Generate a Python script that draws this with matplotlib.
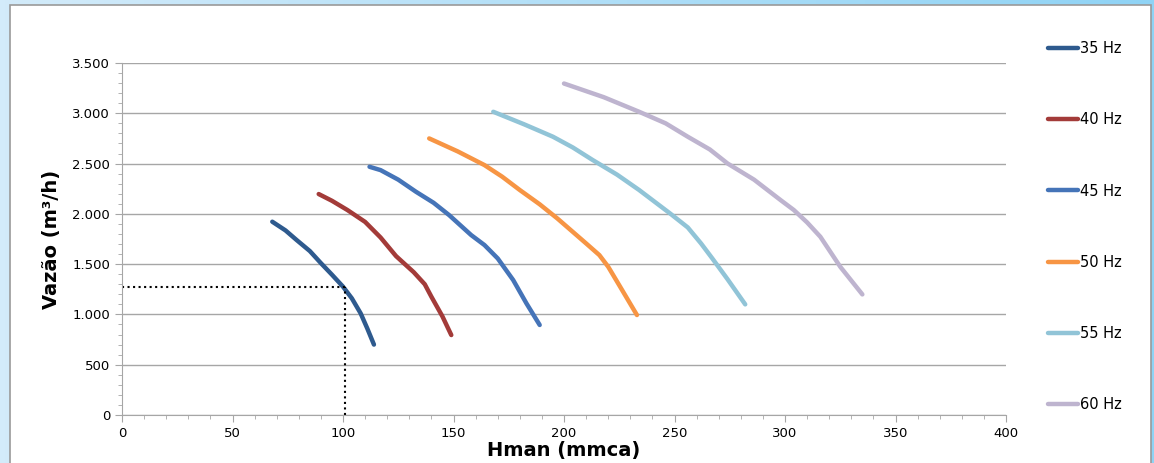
import matplotlib
matplotlib.use("Agg")
import matplotlib.pyplot as plt
import numpy as np
from matplotlib.patches import Rectangle
from matplotlib.ticker import MultipleLocator, FuncFormatter

# Curvas de vazão x altura manométrica para cada frequência
hman_35 = [68, 74, 79, 85, 90, 95, 100, 104, 108, 111, 114]
vazao_35 = [1922, 1835, 1740, 1630, 1510, 1395, 1276, 1160, 1010, 860, 700]
hman_40 = [89, 95, 102, 110, 117, 124, 132, 137, 140, 145, 149]
vazao_40 = [2197, 2130, 2038, 1920, 1765, 1580, 1420, 1300, 1176, 980, 795]
hman_45 = [112, 117, 125, 133, 141, 148, 158, 164, 170, 177, 183, 189]
vazao_45 = [2468, 2435, 2340, 2220, 2110, 1988, 1789, 1690, 1557, 1342, 1110, 895]
hman_50 = [139, 152, 164, 172, 180, 189, 197, 210, 216, 220, 225, 233]
vazao_50 = [2750, 2620, 2485, 2370, 2237, 2095, 1954, 1706, 1590, 1474, 1290, 994]
hman_55 = [168, 182, 195, 204, 213, 224, 234, 248, 256, 262, 267, 274, 282]
vazao_55 = [3015, 2890, 2767, 2660, 2535, 2390, 2237, 2004, 1865, 1706, 1560, 1350, 1100]
hman_60 = [200, 218, 234, 246, 256, 266, 274, 286, 298, 304, 310, 316, 325, 335]
vazao_60 = [3296, 3160, 3015, 2900, 2767, 2640, 2501, 2340, 2137, 2038, 1915, 1772, 1474, 1199]

curvas = [
    ("35 Hz", hman_35, vazao_35, "#2E5A8E"),
    ("40 Hz", hman_40, vazao_40, "#A33B39"),
    ("45 Hz", hman_45, vazao_45, "#4574B8"),
    ("50 Hz", hman_50, vazao_50, "#F79544"),
    ("55 Hz", hman_55, vazao_55, "#91C4D7"),
    ("60 Hz", hman_60, vazao_60, "#BEB4CF"),
]

# Ponto de operação marcado
ponto_h = 101
ponto_q = 1275

fig = plt.figure(figsize=(11.54, 4.63), dpi=100)

# fundo azul em degradê + painel branco
bg = fig.add_axes([0, 0, 1, 1], zorder=-10)
grad = np.linspace(0, 1, 256).reshape(1, -1)
cmap = matplotlib.colors.LinearSegmentedColormap.from_list("bg", ["#D3EBFA", "#8FD3F5"])
bg.imshow(grad, aspect="auto", cmap=cmap, extent=[0, 1, 0, 1])
bg.add_patch(Rectangle((10 / 1154, -0.01), 1141 / 1154, (463 - 5) / 463 + 0.01,
                       facecolor="white", edgecolor="#9A9A9A", linewidth=1.2))
bg.set_xlim(0, 1)
bg.set_ylim(0, 1)
bg.axis("off")

ax = fig.add_axes([122 / 1154, 48 / 463, 884 / 1154, 352 / 463])
ax.set_facecolor("none")

for nome, h, q, cor in curvas:
    ax.plot(h, q, color=cor, linewidth=3.2, solid_capstyle="round",
            solid_joinstyle="round", label=nome)

ax.plot([0, ponto_h], [ponto_q, ponto_q], color="black", linestyle=":", linewidth=1.5)
ax.plot([ponto_h, ponto_h], [0, ponto_q], color="black", linestyle=":", linewidth=1.5)

ax.set_xlim(0, 400)
ax.set_ylim(0, 3500)
ax.xaxis.set_major_locator(MultipleLocator(50))
ax.xaxis.set_minor_locator(MultipleLocator(10))
ax.yaxis.set_major_locator(MultipleLocator(500))
ax.yaxis.set_minor_locator(MultipleLocator(100))
ax.yaxis.set_major_formatter(FuncFormatter(lambda v, p: f"{int(v):,}".replace(",", ".")))

ax.grid(axis="y", which="major", color="#A6A6A6", linewidth=1)
ax.set_axisbelow(True)
for s in ["top", "right"]:
    ax.spines[s].set_visible(False)
for s in ["left", "bottom"]:
    ax.spines[s].set_color("#A6A6A6")
ax.tick_params(which="both", colors="#A6A6A6", labelcolor="black", labelsize=9.5)
ax.tick_params(which="major", length=5)
ax.tick_params(which="minor", length=3)

ax.set_xlabel("Hman (mmca)", fontsize=14, fontweight="bold", labelpad=1)
ax.set_ylabel("Vazão (m³/h)", fontsize=14, fontweight="bold", labelpad=8)

leg = ax.legend(loc="upper left", bbox_to_anchor=(1.0327, 1.10), frameon=False,
                fontsize=10.5, handlelength=2.05, handletextpad=0.15, labelspacing=3.86)

fig.savefig("out.png", dpi=100)
